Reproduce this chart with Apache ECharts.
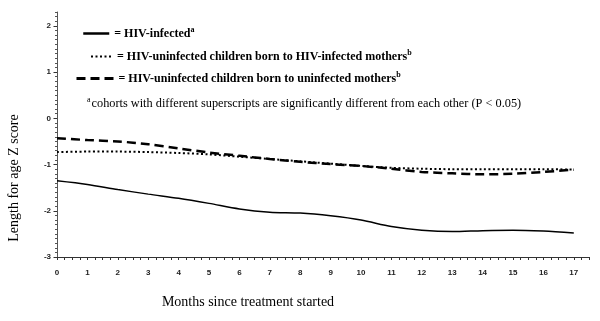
<!DOCTYPE html>
<html>
<head>
<meta charset="utf-8">
<script src="https://cdn.jsdelivr.net/npm/echarts@6/dist/echarts.min.js"></script>
<style>
  html, body { margin: 0; padding: 0; background: #fff; }
  #chart { width: 600px; height: 321px; }
</style>
</head>
<body>
<div id="chart"></div>
<script>
// months since treatment started
var months = [0, 1, 2, 3, 4, 5, 6, 7, 8, 9, 10, 11, 12, 13, 14, 15, 16, 17]
// length for age Z score per cohort
var hivInfected = [-1.35, -1.43, -1.54, -1.64, -1.73, -1.84, -1.96, -2.03, -2.05, -2.11, -2.20, -2.34, -2.42, -2.45, -2.43, -2.42, -2.44, -2.48]
var uninfHivMothers = [-0.73, -0.72, -0.72, -0.73, -0.75, -0.78, -0.83, -0.88, -0.93, -0.98, -1.03, -1.07, -1.09, -1.10, -1.10, -1.10, -1.10, -1.11]
var uninfUninfMothers = [-0.43, -0.47, -0.50, -0.56, -0.65, -0.74, -0.81, -0.88, -0.94, -0.99, -1.03, -1.09, -1.16, -1.19, -1.21, -1.20, -1.16, -1.11]
var yTicks = [-3, -2, -1, 0, 1, 2]
var xTicks = months

var serif = 'Liberation Serif'
var sans = 'Liberation Sans'

function pairs (vals) {
  var out = []
  for (var i = 0; i < months.length; i++) {
    out.push([months[i], vals[i]])
  }
  return out
}

function isInt (v) {
  return Math.abs(v - Math.round(v)) < 1e-6
}

var supRich = {
  sup: { fontSize: 8, fontWeight: 'bold', fontFamily: serif, color: '#000', padding: [0, 0, 7, 0] }
}

function legendFor (name, left, top, width, lineW, label) {
  return {
    data: [name],
    left: left,
    top: top,
    itemWidth: width,
    itemHeight: 14,
    selectedMode: false,
    itemStyle: { opacity: 0 },
    lineStyle: { width: lineW },
    formatter: function () { return label },
    textStyle: {
      fontFamily: serif,
      fontWeight: 'bold',
      fontSize: 12,
      color: '#000',
      rich: supRich
    }
  }
}

var chart = echarts.init(document.getElementById('chart'), null, { renderer: 'canvas' })
chart.setOption({
  animation: false,
  backgroundColor: '#fff',
  color: ['#000', '#000', '#000'],
  grid: { left: 57, right: 11, top: 12, bottom: 64 },
  legend: [
    legendFor('HIV-infected', 77, 21, 26, 2.5, '= HIV-infected{sup|a}'),
    legendFor('HIV-uninfected children born to HIV-infected mothers', 85, 44, 21, 2, '= HIV-uninfected children born to HIV-infected mothers{sup|b}'),
    legendFor('HIV-uninfected children born to uninfected mothers', 70, 66, 37, 3, '= HIV-uninfected children born to uninfected mothers{sup|b}')
  ],
  graphic: [
    {
      type: 'text',
      left: 87,
      top: 96,
      style: {
        text: '{sup|a}cohorts with different superscripts are significantly different from each other (P < 0.05)',
        font: '12.3px ' + serif,
        fill: '#000',
        rich: {
          sup: { fontSize: 8, fontFamily: serif, fill: '#000', padding: [0, 1, 7, 0] }
        }
      }
    },
    {
      type: 'text',
      x: 14,
      y: 178,
      rotation: Math.PI / 2,
      style: {
        text: 'Length for age Z score',
        font: '14px ' + serif,
        fill: '#000',
        align: 'center',
        verticalAlign: 'middle'
      }
    },
    {
      type: 'text',
      x: 248,
      y: 302,
      style: {
        text: 'Months since treatment started',
        font: '14px ' + serif,
        fill: '#000',
        align: 'center',
        verticalAlign: 'middle'
      }
    }
  ],
  xAxis: {
    type: 'value',
    min: 0,
    max: 17.5,
    interval: 0.25,
    splitLine: { show: false },
    axisLine: { onZero: false, lineStyle: { color: '#333', width: 1 } },
    axisTick: { length: 3, lineStyle: { color: '#333' } },
    axisLabel: {
      margin: 12,
      fontFamily: sans,
      fontWeight: 'bold',
      fontSize: 8,
      color: '#222',
      formatter: function (v) { return isInt(v) && xTicks.indexOf(Math.round(v)) >= 0 ? String(Math.round(v)) : '' }
    }
  },
  yAxis: [
    {
      type: 'value',
      min: -3,
      max: 2.3,
      interval: 0.1,
      splitLine: { show: false },
      axisLine: { onZero: false, lineStyle: { color: '#555', width: 1 } },
      axisTick: { length: 2, lineStyle: { color: '#555' } },
      axisLabel: {
        margin: 6,
        fontFamily: sans,
        fontWeight: 'bold',
        fontSize: 8,
        color: '#222',
        formatter: function (v) { return isInt(v) && yTicks.indexOf(Math.round(v)) >= 0 ? String(Math.round(v)) : '' }
      }
    },
    {
      type: 'value',
      min: -3,
      max: 2.3,
      position: 'left',
      splitLine: { show: false },
      axisLine: { show: false, onZero: false },
      axisLabel: { show: false },
      axisTick: { length: 3.5, customValues: yTicks, lineStyle: { color: '#333' } }
    }
  ],
  series: [
    {
      name: 'HIV-infected',
      type: 'line',
      smooth: 0.3,
      symbol: 'none',
      lineStyle: { color: '#000', width: 1.5, type: 'solid' },
      data: pairs(hivInfected)
    },
    {
      name: 'HIV-uninfected children born to HIV-infected mothers',
      type: 'line',
      smooth: 0.3,
      symbol: 'none',
      lineStyle: { color: '#000', width: 2, type: [2, 2.5] },
      data: pairs(uninfHivMothers)
    },
    {
      name: 'HIV-uninfected children born to uninfected mothers',
      type: 'line',
      smooth: 0.3,
      symbol: 'none',
      lineStyle: { color: '#000', width: 2.5, type: [9, 5] },
      data: pairs(uninfUninfMothers)
    }
  ]
})
</script>
</body>
</html>
